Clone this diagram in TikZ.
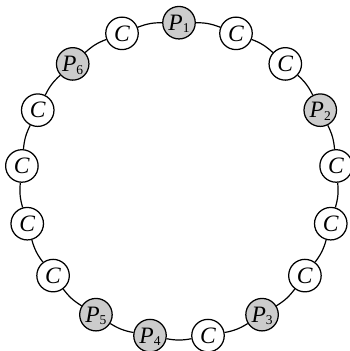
\documentclass[tikz,border=0pt]{standalone}
\usepackage{fontspec}
\setmainfont{Liberation Serif}
\newcommand\plab[1]{\textit{P}\smash{\raisebox{-2.5pt}{\fontsize{13.5}{13.5}\selectfont #1}}}
\newcommand\clab{\textit{C}}
\begin{document}
\begin{tikzpicture}[x=1pt,y=1pt,
  ring/.style={circle,draw,line width=1.25pt,minimum size=32.5pt,inner sep=0pt,font=\fontsize{23.5}{23.5}\selectfont},
  cnode/.style={ring,fill=white},
  pnode/.style={ring,fill=black!20},
  link/.style={line width=1.2pt}]
\useasboundingbox (0,0) rectangle (350,-351);
\begin{scope}[shift={(179,-180.5)}]
\foreach \i/\s/\l in {0/pnode/\plab{1},1/cnode/\clab,2/cnode/\clab,3/pnode/\plab{2},4/cnode/\clab,5/cnode/\clab,6/cnode/\clab,7/pnode/\plab{3},8/cnode/\clab,9/pnode/\plab{4},10/pnode/\plab{5},11/cnode/\clab,12/cnode/\clab,13/cnode/\clab,14/cnode/\clab,15/pnode/\plab{6},16/cnode/\clab}
  \node[\s] (n\i) at ({90-\i*360/17}:157.8) {\l};
\end{scope}
\foreach \i [evaluate=\i as \j using {int(mod(\i+1,17))}] in {0,...,16}
  \draw[link] (n\i) to[bend left=10.6] (n\j);
\end{tikzpicture}
\end{document}
